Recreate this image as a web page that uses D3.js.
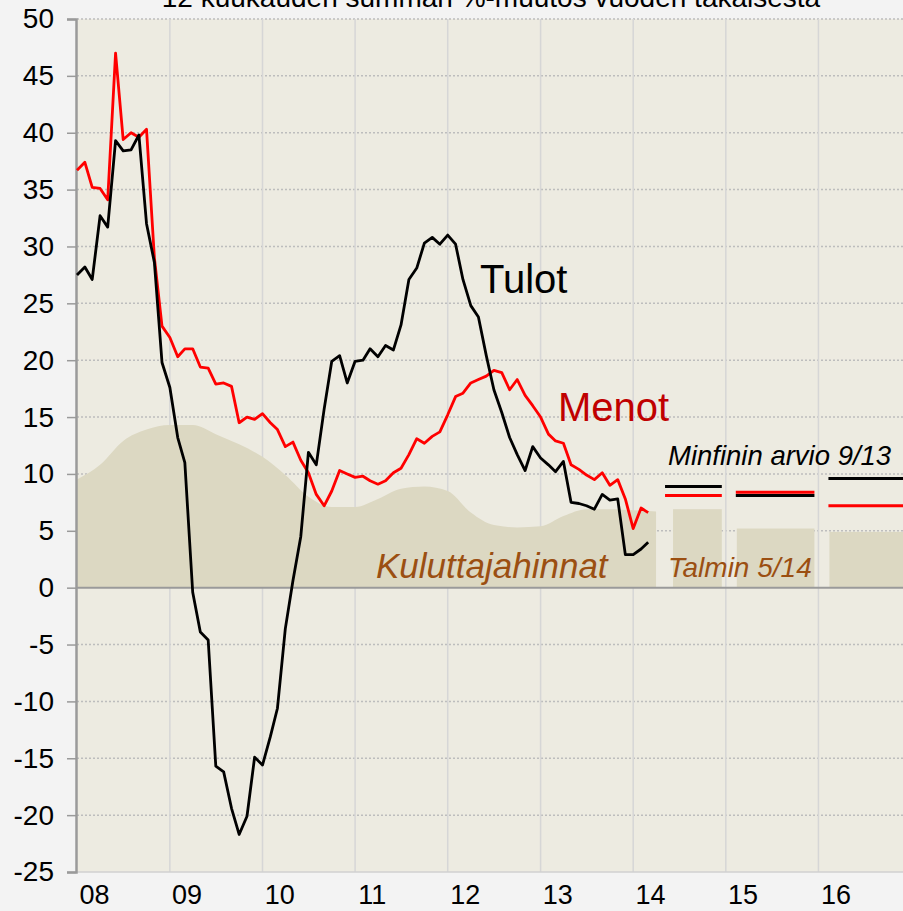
<!DOCTYPE html>
<html>
<head>
<meta charset="utf-8">
<script src="https://cdn.jsdelivr.net/npm/d3@7"></script>
<style>
  html, body { margin: 0; padding: 0; background: #f3f3f3; }
  svg { display: block; font-family: "Liberation Sans", Arial, sans-serif; }
</style>
</head>
<body>
<div id="chart"></div>
<script>
// monthly series from Jan 2008
const tulot = [27.5, 28.2, 27.1, 32.7, 31.7, 39.3, 38.4, 38.5, 39.8, 32.0, 28.6, 19.8,
    17.6, 13.2, 11.0, -0.4, -3.9, -4.6, -15.7, -16.2, -19.4, -21.7, -20.1, -14.9,
    -15.6, -13.1, -10.6, -3.6, 0.6, 4.5, 11.9, 10.8, 15.7, 19.9, 20.4, 18.0,
    19.9, 20.0, 21.0, 20.3, 21.3, 20.9, 23.1, 27.1, 28.1, 30.3, 30.8, 30.2,
    31.0, 30.2, 27.1, 24.8, 23.8, 20.4, 17.4, 15.4, 13.2, 11.7, 10.3, 12.4,
    11.4, 10.8, 10.2, 11.1, 7.5, 7.4, 7.2, 6.9, 8.2, 7.7, 7.8, 2.9,
    2.9, 3.4, 4.0];
const menot = [36.7, 37.4, 35.2, 35.1, 34.1, 47.0, 39.4, 40.0, 39.6, 40.3, 29.0, 23.0,
    22.0, 20.3, 21.0, 21.0, 19.4, 19.3, 17.9, 18.0, 17.7, 14.5, 15.0, 14.8,
    15.3, 14.5, 13.9, 12.4, 12.8, 11.2, 10.1, 8.2, 7.2, 8.5, 10.3, 10.0,
    9.7, 9.8, 9.4, 9.1, 9.4, 10.1, 10.5, 11.7, 13.1, 12.7, 13.3, 13.7,
    15.2, 16.8, 17.1, 18.0, 18.3, 18.6, 19.1, 18.9, 17.4, 18.3, 16.9, 16.0,
    15.0, 13.5, 12.9, 12.7, 10.8, 10.4, 9.9, 9.5, 10.1, 9.0, 9.5, 7.8,
    5.2, 7.0, 6.6];
// consumer prices, read quarterly (every 3rd month from Jan 2008)
const hinnat = [9.5, 10.8, 12.9, 13.9, 14.3, 14.3, 13.5, 12.6, 11.5, 9.9, 8.0, 7.1,
    7.1, 7.8, 8.7, 8.9, 8.5, 6.6, 5.5, 5.3, 5.4, 6.3, 6.9, 6.9, 6.8, 6.7];

const forecastYears = [2014, 2015, 2016];
const minfinTulot = [8.9, 8.1, 9.6];
const minfinMenot = [8.1, 8.4, 7.2];
const talminHinnat = [6.9, 5.2, 4.9];

const yTicks = d3.range(-25, 51, 5);
const xYears = [2008, 2009, 2010, 2011, 2012, 2013, 2014, 2015, 2016];

const width = 903, height = 911;
const plotLeft = 77, plotTop = 19, plotBottom = 872;

const svg = d3.select('#chart').append('svg')
    .attr('width', width)
    .attr('height', height);

const x = d3.scaleTime()
    .domain([new Date(2008, 0, 1), new Date(2017, 0, 1)])
    .range([plotLeft, plotLeft + 9 * 92.7]);
const y = d3.scaleLinear()
    .domain([-25, 50])
    .range([plotBottom, plotTop]);

const month = i => new Date(2008, i, 1);

// plot background
svg.append('rect')
    .attr('x', plotLeft).attr('y', plotTop)
    .attr('width', width - plotLeft).attr('height', plotBottom - plotTop)
    .attr('fill', '#edebe1');

// horizontal dotted grid
svg.append('g').selectAll('line')
    .data(yTicks.filter(d => d !== 0 && d !== -25))
    .enter().append('line')
    .attr('x1', plotLeft).attr('x2', width)
    .attr('y1', d => y(d)).attr('y2', d => y(d))
    .attr('stroke', '#bdbdbd')
    .attr('stroke-width', 1.5)
    .attr('stroke-dasharray', '2,2');

// vertical year grid
svg.append('g').selectAll('line')
    .data(xYears.slice(1))
    .enter().append('line')
    .attr('x1', d => x(new Date(d, 0, 1))).attr('x2', d => x(new Date(d, 0, 1)))
    .attr('y1', plotTop).attr('y2', plotBottom)
    .attr('stroke', '#d6d6d6')
    .attr('stroke-width', 1.5);

// consumer prices area
const areaEnd = hinnat.length * 3 - 3;
svg.append('path')
    .datum(hinnat)
    .attr('fill', '#dcd8c2')
    .attr('d', d3.area()
        .x((d, i) => x(month(i * 3)))
        .y0(y(0))
        .y1(d => y(d))
        .curve(d3.curveMonotoneX));

const barX0 = (yr, i) => i === 0 ? x(month(areaEnd)) + 17 : x(new Date(yr, 0, 1)) + 11;
const barX1 = yr => x(new Date(yr + 1, 0, 1)) - 4;

svg.append('g').selectAll('rect')
    .data(forecastYears)
    .enter().append('rect')
    .attr('x', (d, i) => barX0(d, i))
    .attr('y', (d, i) => y(talminHinnat[i]))
    .attr('width', (d, i) => barX1(d) - barX0(d, i))
    .attr('height', (d, i) => y(0) - y(talminHinnat[i]))
    .attr('fill', '#dcd8c2');

// axes lines
svg.append('line')
    .attr('x1', plotLeft).attr('x2', width)
    .attr('y1', y(0)).attr('y2', y(0))
    .attr('stroke', '#9a9a9a').attr('stroke-width', 2);
svg.append('line')
    .attr('x1', plotLeft).attr('x2', width)
    .attr('y1', plotBottom).attr('y2', plotBottom)
    .attr('stroke', '#d0d0d0').attr('stroke-width', 1.5);

const yAxis = svg.append('g')
    .attr('transform', `translate(${plotLeft - 1},0)`)
    .call(d3.axisLeft(y).tickValues(yTicks).tickSize(9).tickPadding(13)
        .tickFormat(d => String(d)));
yAxis.select('.domain').attr('stroke', '#9a9a9a').attr('stroke-width', 2.5);
yAxis.selectAll('.tick line').attr('stroke', '#9a9a9a').attr('stroke-width', 1.5);
yAxis.selectAll('.tick text')
    .attr('fill', '#000')
    .style('font-size', '28px')
    .style('font-family', '"Liberation Sans", Arial, sans-serif');

svg.append('g').selectAll('text')
    .data(xYears)
    .enter().append('text')
    .attr('x', d => x(new Date(d, 2, 10)))
    .attr('y', 904)
    .attr('text-anchor', 'middle')
    .attr('font-size', 27)
    .text(d => String(d).slice(2));

// lines
const line = d3.line()
    .x((d, i) => x(month(i)))
    .y(d => y(d));

svg.append('path')
    .datum(menot)
    .attr('fill', 'none')
    .attr('stroke', '#ff0000')
    .attr('stroke-width', 2.8)
    .attr('stroke-linejoin', 'round')
    .attr('d', line);

svg.append('path')
    .datum(tulot)
    .attr('fill', 'none')
    .attr('stroke', '#000')
    .attr('stroke-width', 2.8)
    .attr('stroke-linejoin', 'round')
    .attr('d', line);

// Minfin forecast segments
const segX0 = (yr, i) => i === 0 ? x(month(areaEnd)) + 9 : x(new Date(yr, 0, 1)) + 10;
const segX1 = yr => x(new Date(yr + 1, 0, 1)) - 4;

[[minfinTulot, '#000'], [minfinMenot, '#ff0000']].forEach(([vals, color]) => {
    svg.append('g').selectAll('line')
        .data(forecastYears)
        .enter().append('line')
        .attr('x1', (d, i) => segX0(d, i))
        .attr('x2', d => segX1(d))
        .attr('y1', (d, i) => y(vals[i]))
        .attr('y2', (d, i) => y(vals[i]))
        .attr('stroke', color)
        .attr('stroke-width', 3);
});

// labels
svg.append('text')
    .attr('x', 491).attr('y', 7)
    .attr('text-anchor', 'middle')
    .attr('font-size', 28)
    .text('12 kuukauden summan %-muutos vuoden takaisesta');

svg.append('text')
    .attr('x', 480).attr('y', 293)
    .attr('font-size', 40)
    .text('Tulot');

svg.append('text')
    .attr('x', 558).attr('y', 421)
    .attr('font-size', 40)
    .attr('fill', '#c00000')
    .text('Menot');

svg.append('text')
    .attr('x', 376).attr('y', 578)
    .attr('font-size', 35)
    .attr('font-style', 'italic')
    .attr('fill', '#9b4f12')
    .text('Kuluttajahinnat');

svg.append('text')
    .attr('x', 668).attr('y', 577)
    .attr('font-size', 28)
    .attr('font-style', 'italic')
    .attr('fill', '#9b4f12')
    .text('Talmin 5/14');

svg.append('text')
    .attr('x', 668).attr('y', 465)
    .attr('font-size', 27.5)
    .attr('font-style', 'italic')
    .attr('fill', '#000')
    .text('Minfinin arvio 9/13');
</script>
</body>
</html>
